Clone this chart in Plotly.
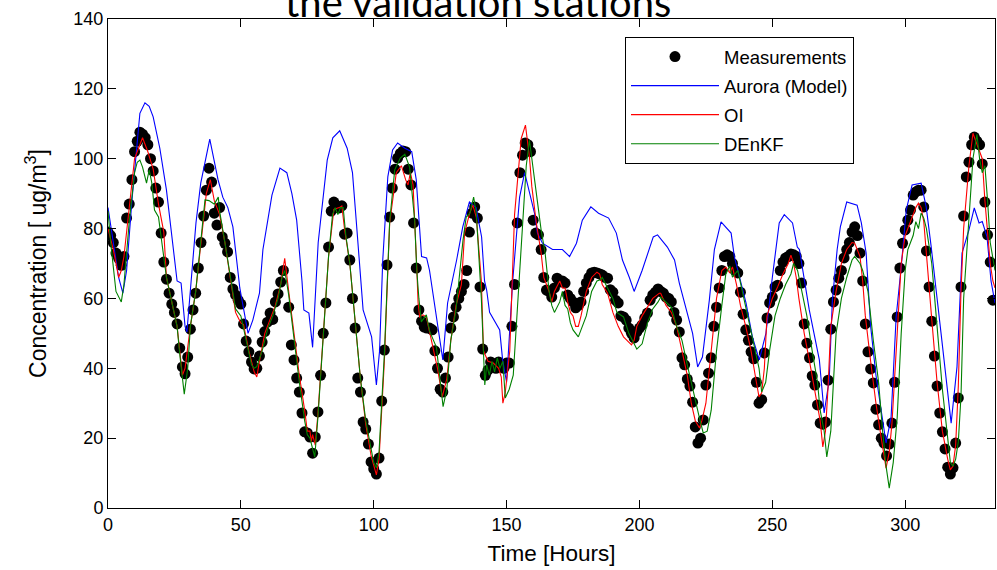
import plotly.graph_objects as go

# ---------------- data ----------------
meas_hours = list(range(0, 334))
meas_vals = [
    79, 78, 76, 73, 71.5, 69.5, 72, 83, 87, 94,
    102, 105, 107.6, 107, 106, 104, 100, 96.5, 91.6, 87.6,
    78.7, 70.4, 65.5, 61.5, 58.4, 56, 52.7, 45.8, 40.4, 38.4,
    43.2, 51.2, 56.7, 61.5, 68.7, 76, 83.6, 91, 97.3, 93.3,
    84.4, 81, 86, 77.6, 75.8, 73.3, 66, 62.7, 61, 59.5,
    58.4, 52.7, 47.8, 44.7, 41.8, 39.8, 40, 43.5, 47.5, 50.5,
    53.2, 55.8, 54, 59, 61.3, 64.7, 68, None, 57.5, 46.7,
    42.4, 37.2, 33.2, 27.2, 21.8, 21.5, 20.3, 15.7, 20.3, 27.5,
    38, 50, 58.7, 74.7, 85, 87.6, 86, 85.9, 86.5, 78.4,
    78.7, 71, 60, 51.5, 37.2, 33.2, 24.6, 22.6, 18.3, 13.2,
    11.2, 9.7, 14.3, 30.6, 45.2, 69.6, 83.3, 91.6, 97, 100.2,
    101.5, 102.2, 102, 97, 92.5, 81.6, 68.7, 56.7, 53.5, 51.8,
    51.5, 51.5, 51, 45, 40, 34, 33.2, 37.2, 43.2, 51.5,
    54.7, 57.5, 60, 62, 64, 68, 79, 84.4, 86.2, 83,
    63.3, 45.5, 38, 39.5, 41.8, 41, 40, 41.8, 40.5, 40,
    41.5, 41.5, 52, 64, 81.6, 96, 101, 104.5, 104, 102,
    82.4, 78.7, 78.2, 74, 66, 62.4, 62, 60.4, 63, 65.8,
    64.7, 65, 64.4, 61, 60, 59, 57.3, 58, 59, 62,
    64.4, 66, 67.3, 67.5, 67.3, 67, 66.7, 66, 65.8, 62.5,
    61.8, 59.5, 58.7, 55, 54.7, 53.8, 51.5, 50, 48.7, 50.4,
    51.5, 52.4, 54.4, 55.8, 59.5, 61, 61.8, 62.7, 62, 61.5,
    60.4, 60, 59, 56, 53.8, 50.4, 43, 41, 36.9, 34.9,
    30.3, 23.2, 18.6, 20, 25.2, 35.2, 38.6, 43, 52, 57.5,
    63, 68, 72, 72.5, 72, 70, 68, 67.3, 61.8, 55.5,
    51, 48, 44.7, 42.7, 36, 30, 31, 44.4, 54.4, 58.7,
    60.4, 63.3, 63.8, 68, 70.4, 71.6, 72, 72.7, 72.5, 72,
    70, 64.4, 52.7, 47.2, 43, 37.8, 35.2, 29.5, 24.3, 24,
    24.6, 36.6, 51.2, 59, 62.4, 65.8, 68, 71.6, 74, 76,
    79, 80.5, 78, 73, 65, 52.7, 44.7, 39.8, 35.8, 28.3,
    23.8, 20, 18.6, 14.9, 18.3, 24.3, 36, 54.7, 68.7, 75.8,
    79.6, 82.4, 85.3, 89.6, 90.5, 91, 91, 86.2, 73.6, 63.3,
    53.5, 43.5, 34.9, 27.2, 21.8, 16.9, 11.7, 9.7, 11.5, 18.6,
    31.5, 63.3, 83.6, 94.8, 99, 104, 106.2, 105, 104, 98.5,
    87.6, 78.2, 70.4, 59.5,
]

aurora_hours = [
    0, 2, 4, 5.6, 7, 9, 10.5, 12, 13.9, 15.5, 17, 19.5, 22, 23, 26, 27.5, 29, 29.7, 31, 32.3,
    33.1, 34.9, 38.3, 41.4, 43.2, 45.1, 47, 49.6, 52.7, 54.5, 57, 58.3, 61.7, 64.7, 67.3, 69.2,
    71, 73, 73.7, 75.6, 77, 79.1, 82.5, 84.6, 87.2, 90, 92, 93.2, 95, 96, 99.2, 101, 102.2,
    103.4, 105.3, 107.1, 109, 111.7, 114.3, 116, 118, 119.9, 121, 123.5, 126, 127.8, 131.2,
    133.5, 135.3, 136, 138.5, 140.6, 141.7, 142.5, 143.6, 147.4, 148.5, 150, 152.3, 154.9,
    156.8, 158.6, 160.5, 161.6, 163.5, 167.3, 171, 173.7, 176.3, 178.5, 181.7, 184.6, 188.4,
    191.3, 193.6, 196.2, 198, 201, 203.8, 205.2, 206.8, 210.5, 213.2, 215, 220, 221.9, 223.7,
    226.3, 228.2, 230.7, 234.5, 235.7, 240.1, 242.5, 245.1, 247.6, 250, 252.6, 254.5, 257.6,
    259.4, 260.2, 263.9, 267.7, 269.5, 271.4, 272.6, 274.4, 275.6, 278, 281.9, 283.5, 285.3,
    287, 289, 291, 292.8, 294.7, 296.6, 298.5, 300.4, 302.6, 306, 307.9, 309.8, 313.5, 317.3,
    319.5, 321.4, 324, 326, 327.8, 329, 330.8, 332.3, 333.8,
]
aurora_vals = [
    86, 76, 66, 61.5, 68, 88, 100, 113, 116, 115, 112, 103, 91, 84.4, 65, 64.4, 52, 50.4, 61.5, 74,
    81.6, 93, 105.6, 94, 89, 86, 80.5, 63, 50, 53.8, 61.5, 74, 89.6, 97.3, 96, 90,
    82.4, 65, 56.7, 55.8, 46, 76, 99.6, 106, 108, 103, 96, 84.4, 65, 56.7, 49, 35.2, 45,
    71, 94.8, 102.5, 104.5, 103, 102, 94, 72, 71.6, 68, 54.7, 42.4, 58.7, 71,
    80.5, 86.2, 87.6, 86, 77.6, 65, 62.4, 56, 51, 42.4, 36, 65, 89,
    96, 90, 84.4, 78.7, 75.8, 74, 74, 72, 75.8, 82.4, 86.2, 84.4, 83,
    78.7, 71, 66, 62, 68, 74, 77.6, 78.2, 74.7, 71, 64.4, 50, 40.4, 43.2,
    59.5, 74, 81.9, 78.7, 72, 58.7, 49, 42.4, 50, 66, 81.6, 84, 81.6,
    74.7, 74, 56.7, 42.4, 27.2, 36.6, 59.5, 74, 80.5, 87.6, 86.7, 81.6, 73,
    52, 38, 28, 18.6, 26, 54.7, 69, 85.3, 92.5, 93, 86.2, 74.7, 50, 24.3,
    40.4, 73, 79.6, 85.9, 81.6, 82, 77.6, 65, 58.7,
]

oi_hours = [
    0, 2, 4, 5, 6, 8, 10, 12, 13, 15, 17, 19, 21, 22, 24, 26, 27, 28, 29, 31, 33, 35, 37, 38.5,
    40, 42, 44, 46, 48, 49, 50, 51, 53, 55, 56, 57, 59, 61, 63, 65, 66.5, 68, 70, 72, 74, 75,
    76, 76.5, 77, 78, 79, 81, 83, 85, 87, 88, 89, 91, 93, 95, 97, 99, 101, 102, 104, 106,
    108.5, 110.4, 112, 112.9, 113.8, 114.8, 116.2, 116.7, 117.3, 118.5, 119.8, 122.3, 124,
    125.8, 127.5, 129, 131, 133, 134.2, 136.1, 137.3, 138.6, 140.5, 141.3, 143, 145, 147, 148,
    148.6, 149.5, 151.2, 153, 155.5, 157.1, 158.6, 159.5, 161.2, 163, 164, 166, 167, 168, 170,
    171, 172, 173, 174, 175, 176, 177, 178, 180, 182, 184, 185, 186, 188, 190, 192, 194, 197,
    198, 199, 201, 203, 205, 207.5, 208, 210, 212, 214, 216, 218, 219.5, 221, 222.6, 223.5,
    225, 227, 229, 231, 232.5, 234, 235, 236.5, 238, 240, 242, 244, 245, 246, 247, 248, 250,
    252, 254, 256, 257, 258, 259, 260, 262, 264, 266, 268, 269, 270, 271, 272, 274, 276, 278,
    280, 281, 283, 284, 285, 287, 289, 291, 292.8, 294, 295, 297, 298.5, 300, 302, 304, 305,
    306, 307, 308, 310, 312, 314, 316, 317, 318, 319, 320, 321, 322, 324, 325.5, 327, 329,
    330, 331, 332, 333, 333.8,
]
oi_vals = [
    80, 74, 66, 68, 72, 86, 100, 104, 106, 102, 97, 87, 79, 66, 59, 52, 45, 38, 40, 52, 62, 77, 90, 94,
    88, 84, 76, 66, 56, 54.5, 53, 52.5, 45, 39, 37.5, 42, 50, 54, 58, 64, 71.5, 62, 50, 38, 28, 22,
    22, 19, 21, 18, 27, 49, 72, 85.5, 86, 86.5, 80, 70, 54, 37, 24, 15, 9.5, 14, 42, 81.6,
    96, 98, 94, 92.5, 96, 92.5, 68.7, 58.7, 54.7, 55.3, 54.7, 46, 40,
    31.8, 37, 48, 58, 64, 78.7, 84.4, 86.7, 83.3, 65, 45, 42, 41.5, 40, 37.5,
    30, 33, 45, 84, 105.8, 109.6, 100.5, 92, 81.6, 73, 66, 62, 59, 62, 65,
    63, 63, 59, 56, 55, 52, 52, 55, 62, 66, 67.5, 67, 64, 61.5, 56, 52, 49, 46.7,
    48, 52, 55, 57.5, 60, 61.5, 61.5, 58, 56, 52, 45, 38, 30, 25, 22.9, 25,
    30, 45, 60, 68, 69, 67.3, 69, 64, 58, 52, 45, 36, 31.8, 33, 40, 55, 60,
    63.3, 67, 70, 72.4, 70, 66, 60, 50, 42, 34, 25, 17.5, 22, 35, 52, 62, 70, 74,
    76, 75.8, 72, 65, 55, 42, 30, 20, 11.4, 16, 24, 50, 70, 78, 82, 86, 87.3,
    86, 82, 72, 54, 36, 22, 14, 10.9, 12, 18, 35, 62, 80, 98, 107.3, 104, 100,
    88, 78, 70, 65, 63,
]

denkf_hours = [
    0, 1, 3, 5, 6, 8, 10, 11, 12, 13, 14.5, 15.5, 16.5, 17.5, 19, 20, 22, 24, 26, 27, 28.7, 30,
    31, 33, 35, 36.5, 38, 40, 41.5, 42, 44, 46, 48, 50, 52, 54, 55, 56, 58, 60, 62, 64, 65.5,
    66.5, 68, 70, 72, 74, 75, 76, 77.8, 79, 81, 83, 84.5, 85.5, 86.5, 87.5, 88.5, 89.5, 91, 93,
    95, 97, 99, 100, 101, 102, 104, 106, 107.9, 110, 111.7, 113.5, 115.4, 116.2, 117, 117.9,
    119.8, 121.1, 123.6, 126.1, 127.5, 129, 131, 133.6, 134.8, 136.2, 137.6, 138.6, 140.5,
    141.8, 142.5, 143.5, 144.5, 145.5, 146.5, 147.5, 148.6, 149.5, 151, 152.5, 154.3, 156,
    157.4, 158.6, 160, 161.9, 163, 164.5, 166, 167, 168, 170, 171, 172, 173, 174, 175, 176,
    177, 178, 180, 182, 184, 185, 186, 188, 190, 191.5, 194, 196, 198, 199, 201, 203, 205,
    207, 208, 210, 212, 214, 216, 218, 220, 222.5, 224, 225.5, 227, 229, 231, 232.5, 234, 235,
    237, 239, 241, 243, 245, 246, 247.5, 249, 251, 253, 255, 257, 258, 259.5, 261, 263, 265,
    267, 268, 269.5, 270.5, 272, 274, 276, 278, 280, 281, 283, 284, 286, 288, 290, 291.5,
    292.8, 294, 295.5, 297, 298.5, 300, 301, 302, 303, 304, 305, 306, 307, 308, 310, 312, 314,
    316, 317, 318, 319, 320, 321, 322, 324, 325.5, 327, 328, 329, 330, 331, 332, 333.8,
]
denkf_vals = [
    85, 76, 62, 59, 64, 82, 96, 99, 99.6, 97.6, 93, 96.8, 93, 85.3, 83.3, 78, 66, 59, 52, 44, 32.6, 40,
    52, 62, 78, 88.2, 88, 87, 89, 85, 76, 66, 57, 55, 48, 41, 40, 40.5, 45, 51, 55, 60, 66,
    68, 61, 48, 36, 25, 21, 20, 14.6, 26, 48, 72, 84, 86, 84, 86, 86, 78, 70, 54,
    37, 25, 17, 13, 11.5, 16, 44, 82, 96.8, 100.2, 101.3, 97.6, 82.4, 68, 60, 53.3,
    55.3, 50.5, 46, 29, 34, 48, 57, 76.7, 83.3, 84.4, 89, 84.4, 60,
    35.2, 41, 38, 42, 39, 43, 40, 42, 31.5, 34, 38, 60, 81.6, 98,
    105.3, 96.5, 86, 79.6, 73, 62, 58, 56, 59, 62, 58, 57, 53, 51, 50, 49,
    51, 55, 62, 65, 65.3, 66, 63, 60, 56, 54.7, 50, 47, 45.5, 47, 53, 57, 59,
    60.4, 59, 57.5, 52, 48, 41, 34, 26, 21.5, 22, 28, 45, 58, 67, 69.3, 66.1, 68,
    61, 55, 47, 40, 33.2, 36, 45.2, 55, 60, 64, 67, 70, 68, 62, 55, 45, 36,
    28, 22, 14.6, 22, 50, 60, 66, 71, 72, 70, 68, 62, 48, 36, 22, 12,
    5.7, 13, 26, 50, 68, 74, 76, 78, 82, 80, 84.4, 83, 80, 70, 52, 34, 20,
    13, 12, 14, 19, 32, 60, 82, 100, 107, 100, 96, 98, 88, 76, 68, 55,
]

x_ticks = [0, 50, 100, 150, 200, 250, 300]
y_ticks = [0, 20, 40, 60, 80, 100, 120, 140]

# ---------------- figure ----------------
FONT = "Liberation Sans, Arial, sans-serif"

fig = go.Figure()
fig.add_trace(go.Scatter(
    x=meas_hours, y=meas_vals, mode="markers", name="Measurements",
    marker=dict(color="black", size=11, line=dict(width=0)),
    legendgroup="a",
))
fig.add_trace(go.Scatter(
    x=aurora_hours, y=aurora_vals, mode="lines", name="Aurora (Model)",
    line=dict(color="#0000ff", width=1.1), legendgroup="b",
))
fig.add_trace(go.Scatter(
    x=oi_hours, y=oi_vals, mode="lines", name="OI",
    line=dict(color="#ff0000", width=1.1), legendgroup="c",
))
fig.add_trace(go.Scatter(
    x=denkf_hours, y=denkf_vals, mode="lines", name="DEnKF",
    line=dict(color="#008000", width=1.1), legendgroup="d",
))

axis_common = dict(
    showline=True, linecolor="black", linewidth=1, mirror="ticks",
    ticks="inside", ticklen=8, tickwidth=1, tickcolor="black",
    showgrid=False, zeroline=False,
    tickfont=dict(family=FONT, size=18, color="black"),
)

fig.update_layout(
    width=997, height=570,
    margin=dict(l=108, r=2, t=19, b=62, pad=0),
    paper_bgcolor="white", plot_bgcolor="white",
    xaxis=dict(range=[0, 333.8], tickvals=x_ticks, ticktext=[str(v) for v in x_ticks],
               title=dict(text="Time [Hours]", font=dict(family=FONT, size=22.5, color="black"),
                          standoff=11),
               **axis_common),
    yaxis=dict(range=[0, 140], tickvals=y_ticks, ticktext=[str(v) for v in y_ticks],
               title=dict(text="Concentration [ ug/m<sup>3</sup>]",
                          font=dict(family=FONT, size=23, color="black"), standoff=20),
               **axis_common),
    showlegend=True,
    legend=dict(
        x=(625 - 108) / 887, y=(508 - 37) / 489, xanchor="left", yanchor="top",
        bordercolor="black", borderwidth=1, bgcolor="white",
        font=dict(family=FONT, size=18.5, color="black"),
        itemwidth=88, traceorder="grouped", tracegroupgap=2,
        entrywidth=175, entrywidthmode="pixels",
    ),
    annotations=[dict(
        text="the validation stations", xref="paper", yref="paper",
        x=(478 - 108) / 887, y=0.982, xanchor="center", yanchor="bottom",
        showarrow=False, font=dict(family="Lato, sans-serif", size=40, color="black"),
    )],
)

fig.write_html("out.html")
